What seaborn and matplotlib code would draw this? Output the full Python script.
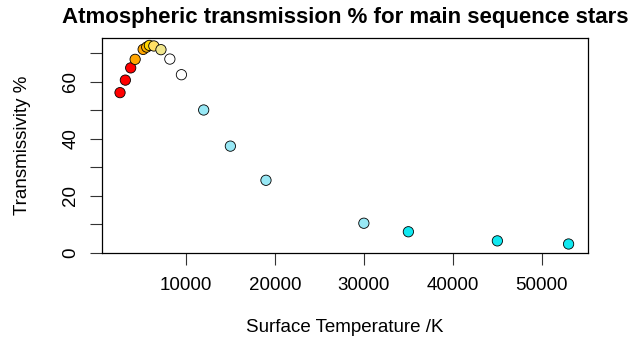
import numpy as np
import pandas as pd
import matplotlib
matplotlib.use('Agg')
import matplotlib.pyplot as plt
import seaborn as sns

# values
temperature = [2600, 3200, 3800, 4300, 5200, 5600, 5900, 6400, 7200, 8200, 9500,
               12000, 15000, 19000, 30000, 35000, 45000, 53000]
transmissivity = [56.2, 60.6, 64.9, 67.9, 71.4, 72.2, 72.8, 72.6, 71.3, 68.0, 62.5,
                  50.1, 37.4, 25.4, 10.3, 7.3, 4.1, 3.0]
star_colour = ['#FF0000', '#FF0000', '#FF0000', '#FFA500', '#FFA500', '#FFB300',
               '#FFD700', '#FFE066', '#F0E68C', '#FFFFFF', '#FFFFFF',
               '#98E8F5', '#98E8F5', '#98E8F5', '#98E8F5', '#10E8F0', '#10E8F0', '#10E8F0']

df = pd.DataFrame({'T': temperature, 'Tr': transmissivity, 'col': star_colour})

sns.set_style('ticks')
plt.rcParams['font.family'] = ['Liberation Sans', 'DejaVu Sans']
plt.rcParams['text.color'] = 'black'
plt.rcParams['axes.labelcolor'] = 'black'
plt.rcParams['xtick.color'] = '#333333'
plt.rcParams['ytick.color'] = '#333333'
plt.rcParams['xtick.labelcolor'] = 'black'
plt.rcParams['ytick.labelcolor'] = 'black'

fig = plt.figure(figsize=(6.44, 3.45), dpi=100)
ax_left, ax_bottom, ax_w, ax_h = 0.159, 0.268, 0.754, 0.621
ax = fig.add_axes([ax_left, ax_bottom, ax_w, ax_h])

sns.scatterplot(data=df, x='T', y='Tr', hue='col', palette={c: c for c in set(star_colour)},
                legend=False, s=55, edgecolor='black', linewidth=0.6, ax=ax, zorder=3)

ax.set_xlim(620, 55180)
ax.set_ylim(0, 75.3)
ax.set_xticks([10000, 20000, 30000, 40000, 50000])
ax.set_yticks(np.arange(0, 71, 10))
ax.set_yticklabels(['0', '', '20', '', '40', '', '60', ''])
ax.tick_params(axis='both', direction='out', length=8.5, width=0.8, labelsize=13.5)
ax.tick_params(axis='x', pad=9)
ax.tick_params(axis='y', pad=8)
for lbl in ax.get_yticklabels():
    lbl.set_rotation(90)
    lbl.set_va('center')
for sp in ax.spines.values():
    sp.set_visible(True)
    sp.set_color('black')
    sp.set_linewidth(0.9)

ax.set_xlabel('Surface Temperature /K', fontsize=13.5)
ax.set_ylabel('Transmissivity %', fontsize=13.5)
# place axis labels at the same spots as the reference
ax.xaxis.set_label_coords(ax_left + ax_w / 2, (345 - 328) / 345, transform=fig.transFigure)
ax.xaxis.label.set_va('center')
ax.yaxis.set_label_coords(23 / 644, ax_bottom + ax_h / 2, transform=fig.transFigure)
ax.yaxis.label.set_va('center')
ax.set_title('Atmospheric transmission % for main sequence stars', fontsize=16,
             fontweight='bold', pad=11)

fig.savefig('out.png', dpi=100)
